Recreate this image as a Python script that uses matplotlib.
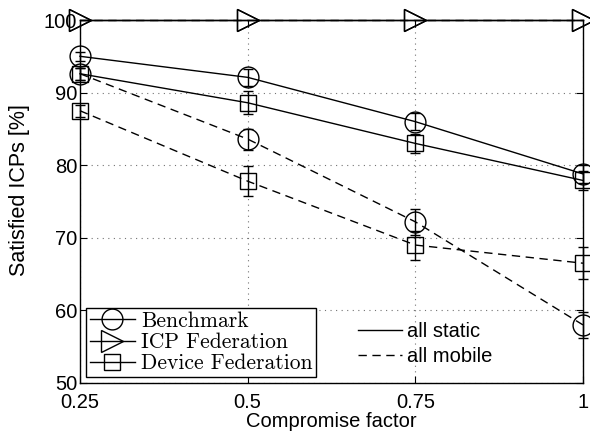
import matplotlib
matplotlib.use('Agg')
import matplotlib.pyplot as plt
from matplotlib.lines import Line2D

plt.rcParams['font.family'] = ['Liberation Sans', 'DejaVu Sans']

factors = [0.25, 0.5, 0.75, 1.0]

bench_static = [95.0, 92.1, 86.0, 78.8]
bench_static_err = [0.6, 1.2, 1.2, 1.2]
icp_static = [100, 100, 100, 100]
device_static = [92.6, 88.6, 83.0, 77.9]
device_static_err = [0.8, 1.6, 1.3, 1.3]

bench_mobile = [92.6, 83.6, 72.2, 58.0]
bench_mobile_err = [0.8, 1.45, 1.8, 1.8]
icp_mobile = [100, 100, 100, 100]
device_mobile = [87.5, 77.8, 69.0, 66.5]
device_mobile_err = [0.8, 2.1, 2.0, 2.2]

series_names = ['Benchmark', 'ICP Federation', 'Device Federation']
scenario_names = ['all static', 'all mobile']

fig = plt.figure(figsize=(5.9, 4.33), dpi=100)
ax = fig.add_axes([0.1356, 0.1155, 0.8525, 0.8383])

def draw(x, y, err, marker, ms, ls):
    dash = (6, 4) if ls == '--' else (None, None)
    if err is None:
        ax.plot(x, y, color='k', linestyle=ls, linewidth=1, marker=marker,
                markersize=ms, markerfacecolor='none', markeredgecolor='k',
                markeredgewidth=1, clip_on=False, zorder=3, dashes=dash)
    else:
        ax.errorbar(x, y, yerr=err, color='k', linestyle=ls, linewidth=1,
                    marker=marker, markersize=ms, markerfacecolor='none',
                    markeredgecolor='k', markeredgewidth=1, capsize=3.5,
                    elinewidth=1, clip_on=False, zorder=3, dashes=dash)

draw(factors, bench_static, bench_static_err, 'o', 15, '-')
draw(factors, icp_static, None, '>', 16, '-')
draw(factors, device_static, device_static_err, 's', 12, '-')
draw(factors, bench_mobile, bench_mobile_err, 'o', 15, '--')
draw(factors, icp_mobile, None, '>', 16, '--')
draw(factors, device_mobile, device_mobile_err, 's', 12, '--')

ax.set_xlim(0.25, 1.0)
ax.set_ylim(50, 100)
ax.set_xticks(factors)
ax.set_xticklabels(['0.25', '0.5', '0.75', '1'])
ax.set_yticks([50, 60, 70, 80, 90, 100])
ax.tick_params(direction='in', which='both', top=True, right=True, labelsize=14.5)
ax.tick_params(which='major', length=5)
ax.tick_params(axis='x', pad=7)
ax.tick_params(axis='y', pad=2)
ax.grid(True, which='major', linestyle=(0, (1, 4)), color='0.45', linewidth=0.8)
for s in ax.spines.values():
    s.set_linewidth(1)

ax.set_xlabel('Compromise factor', fontsize=14.5, labelpad=0)
ax.set_ylabel('Satisfied ICPs [%]', fontsize=15.5)
ax.yaxis.set_label_coords(-0.10, 0.532)

h1 = [Line2D([], [], color='k', lw=1, marker='o', ms=15, mfc='none', mec='k'),
      Line2D([], [], color='k', lw=1, marker='>', ms=16, mfc='none', mec='k'),
      Line2D([], [], color='k', lw=1, marker='s', ms=12, mfc='none', mec='k')]
leg1 = ax.legend(h1, series_names, loc='lower left', bbox_to_anchor=(0.0, 0.0),
                 prop={'family': 'cmr10', 'size': 15.5}, frameon=True,
                 fancybox=False, edgecolor='k', framealpha=1, handlelength=2.1,
                 handletextpad=0.3, labelspacing=0.08, borderpad=0.15,
                 borderaxespad=0.3)
leg1.get_frame().set_linewidth(1)
ax.add_artist(leg1)

h2 = [Line2D([], [], color='k', lw=1, ls='-'),
      Line2D([], [], color='k', lw=1, ls='--', dashes=(6, 4))]
ax.legend(h2, scenario_names, loc='lower left', bbox_to_anchor=(0.517, -0.003),
          frameon=False, fontsize=14.5, handlelength=2.2, handletextpad=0.2,
          labelspacing=0.3)

fig.savefig('out.png', dpi=100)
